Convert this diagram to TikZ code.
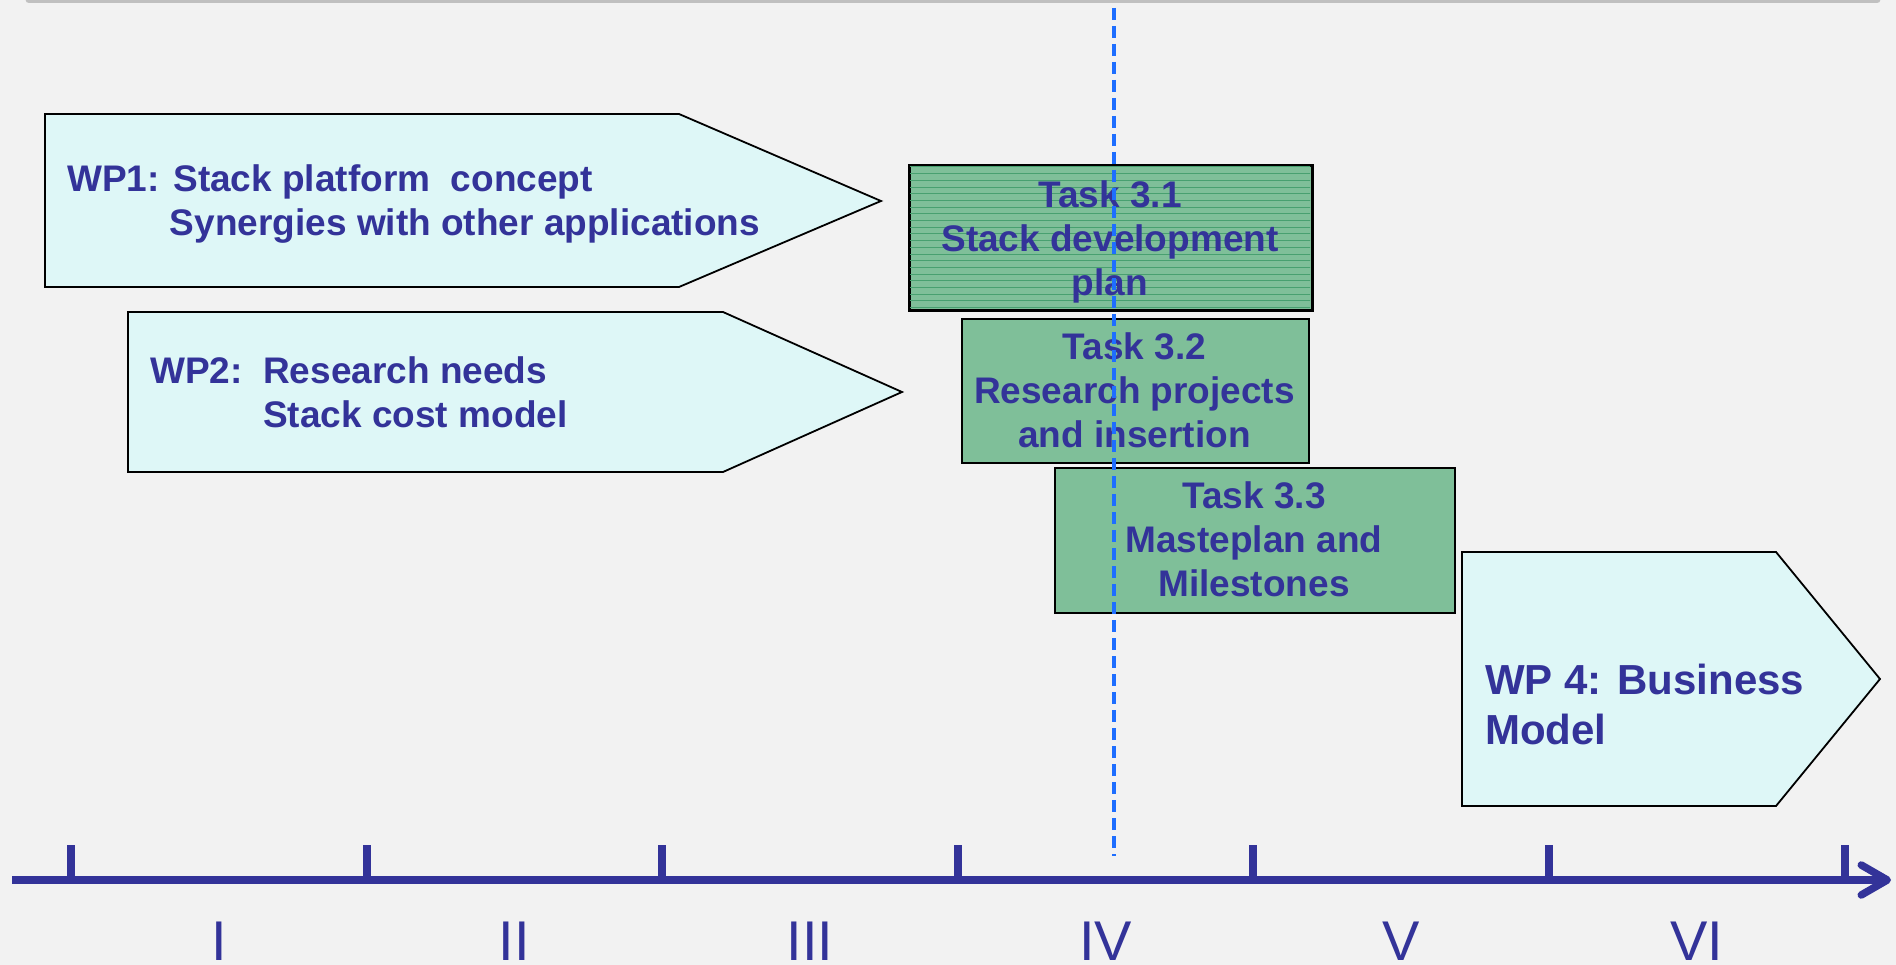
\documentclass[tikz,border=0pt]{standalone}
\usepackage{fontspec}
\setmainfont{Liberation Sans}
\usetikzlibrary{arrows.meta}
\definecolor{bg}{RGB}{242,242,242}
\definecolor{txt}{RGB}{51,51,153}
\definecolor{wpfill}{RGB}{222,247,247}
\definecolor{taskfill}{RGB}{127,191,153}
\definecolor{stripe}{RGB}{72,160,112}
\definecolor{dashblue}{RGB}{30,110,255}
\definecolor{topgrey}{RGB}{192,192,192}
\begin{document}
\begin{tikzpicture}[x=1pt,y=-1pt,
  wpshape/.style={draw=black, line width=1.8pt, fill=wpfill, line join=miter},
  taskbox/.style={draw=black, line width=2pt, fill=taskfill, inner sep=0pt, anchor=north west},
  boxborder/.style={draw=black, line width=2pt},
  wptext/.style={text=txt, font=\fontsize{37}{44}\selectfont\bfseries, inner sep=0pt, align=left, anchor=north west},
  tasktext/.style={text=txt, font=\fontsize{37}{44}\selectfont\bfseries, inner sep=0pt, align=center, anchor=north},
  bigtext/.style={text=txt, font=\fontsize{42}{50}\selectfont\bfseries, inner sep=0pt, align=left, anchor=north west},
  axlabel/.style={text=txt, font=\fontsize{56}{60}\selectfont, inner sep=0pt, anchor=base},
  tickmark/.style={draw=txt, line width=8pt},
  axisline/.style={draw=txt, line width=7.5pt, -{Straight Barb[length=26pt,width=30pt,round]}},
  guide/.style={draw=dashblue, line width=3.2pt, dash pattern=on 12pt off 6pt}
]
\fill[bg] (0,0) rectangle (1896,965);
\useasboundingbox (0,0) rectangle (1896,965);

% top grey rule
\draw[topgrey, line width=7pt, line cap=round] (29,0) -- (1877,0);

% WP1
\path[wpshape] (45,114) -- (679,114) -- (881,201) -- (679,287) -- (45,287) -- cycle;
\node[wptext] (wp1) at (67,164) {WP1: Stack platform~~concept\\\phantom{WP1:} Synergies with other applications};

% WP2
\path[wpshape] (128,312) -- (723,312) -- (902,392) -- (723,472) -- (128,472) -- cycle;
\node[wptext] (wp2) at (150,356) {WP2:~~Research needs\\\phantom{WP2:}~~Stack cost model};

% WP4
\path[wpshape] (1462,552) -- (1776,552) -- (1880,679) -- (1776,806) -- (1462,806) -- cycle;
\node[bigtext] (wp4) at (1485,664) {WP 4: Business\\Model};

% Task 3.1 (striped)
\node[taskbox, minimum width=402pt, minimum height=144pt] (t31box) at (909,165) {};
\begin{scope}
  \clip (910,166) rectangle (1310,308);
  \foreach \yy in {167,173.7,...,308} \draw[stripe, line width=1pt] (909,\yy) -- (1311,\yy);
\end{scope}
\draw[boxborder] (t31box.north west) rectangle (t31box.south east);
\node[tasktext] (t31) at (1110,180) {Task 3.1\\Stack development\\plan};

% Task 3.2
\node[taskbox, minimum width=347pt, minimum height=144pt] (t32box) at (961,318) {};
\node[tasktext] (t32) at (1134.5,332) {Task 3.2\\Research projects\\and insertion};

% Task 3.3
\node[taskbox, minimum width=400pt, minimum height=145pt] (t33box) at (1054,467) {};
\node[tasktext] (t33) at (1254,481) {Task 3.3\\Masteplan and\\Milestones};

% dashed guide line
\coordinate (gtop) at (1114,8);
\coordinate (gbot) at (1114,856);
\draw[guide] (gtop) -- (gbot);

% time axis
\coordinate (axstart) at (12,880);
\coordinate (axend) at (1891,880);
\foreach \k in {0,...,6} \draw[tickmark] ({71+295.6*\k},845) -- ({71+295.6*\k},880);
\draw[axisline] (axstart) -- (axend);

\foreach \lab [count=\k from 0] in {I,II,III,IV,V,VI}
  \node[axlabel] (lab\k) at ({218.8+295.6*\k},960) {\lab};
\end{tikzpicture}
\end{document}
